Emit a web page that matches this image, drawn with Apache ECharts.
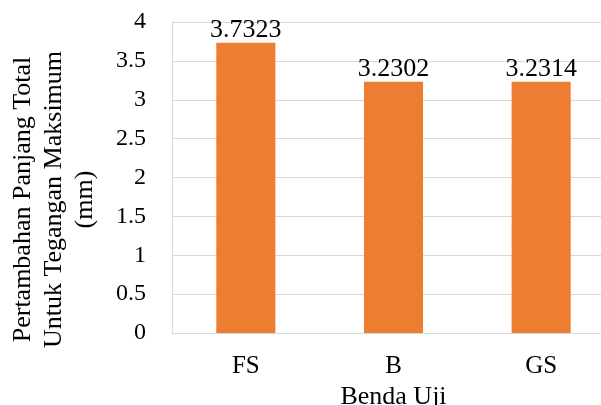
<!DOCTYPE html>
<html>
<head>
<meta charset="utf-8">
<style>
  html, body { margin: 0; padding: 0; background: #ffffff; overflow: hidden; width: 601px; height: 405px; }
  #chart { width: 601px; height: 405px; overflow: hidden; }
</style>
<script src="https://cdn.jsdelivr.net/npm/echarts@6/dist/echarts.min.js"></script>
</head>
<body>
<div id="chart"></div>
<script>
// Specimens and total elongation at maximum stress (mm)
const categories = ['FS', 'B', 'GS'];
const elongation = [3.7323, 3.2302, 3.2314];
const yTicks = { min: 0, max: 4, interval: 0.5 };

const serif = '"Liberation Serif", "Times New Roman", serif';
const chart = echarts.init(document.getElementById('chart'), null, { renderer: 'canvas', width: 601, height: 405 });

chart.setOption({
  animation: false,
  backgroundColor: '#ffffff',
  // the plot area runs past the right edge of the canvas
  grid: { left: 172, top: 22, width: 443, height: 311, containLabel: false, outerBoundsMode: 'none' },
  xAxis: {
    type: 'category',
    data: categories,
    name: 'Benda Uji',
    nameLocation: 'middle',
    nameGap: 46,
    nameTextStyle: { fontFamily: serif, fontSize: 26, color: '#000000' },
    axisLine: { show: true, lineStyle: { color: '#D9D9D9', width: 1 } },
    axisTick: { show: false },
    axisLabel: { fontFamily: serif, fontSize: 25, color: '#000000', margin: 21 }
  },
  yAxis: {
    type: 'value',
    min: yTicks.min,
    max: yTicks.max,
    interval: yTicks.interval,
    name: 'Pertambahan Panjang Total\nUntuk Tegangan Maksimum\n(mm)',
    nameLocation: 'middle',
    nameGap: 71,
    nameRotate: 90,
    nameTextStyle: {
      fontFamily: serif, fontSize: 26, color: '#000000', lineHeight: 31,
      align: 'center', padding: [0, 44, 0, 0]
    },
    axisLine: { show: true, lineStyle: { color: '#D9D9D9', width: 1 } },
    axisTick: { show: false },
    splitLine: { show: true, lineStyle: { color: '#D9D9D9', width: 1 } },
    axisLabel: { fontFamily: serif, fontSize: 24, color: '#000000', margin: 26 }
  },
  series: [{
    type: 'bar',
    data: elongation,
    barWidth: '40%',
    itemStyle: { color: '#ED7D31' },
    label: {
      show: true,
      position: 'top',
      distance: 0,
      fontFamily: serif,
      fontSize: 26,
      color: '#000000',
      formatter: p => String(p.value)
    }
  }]
});
</script>
</body>
</html>
